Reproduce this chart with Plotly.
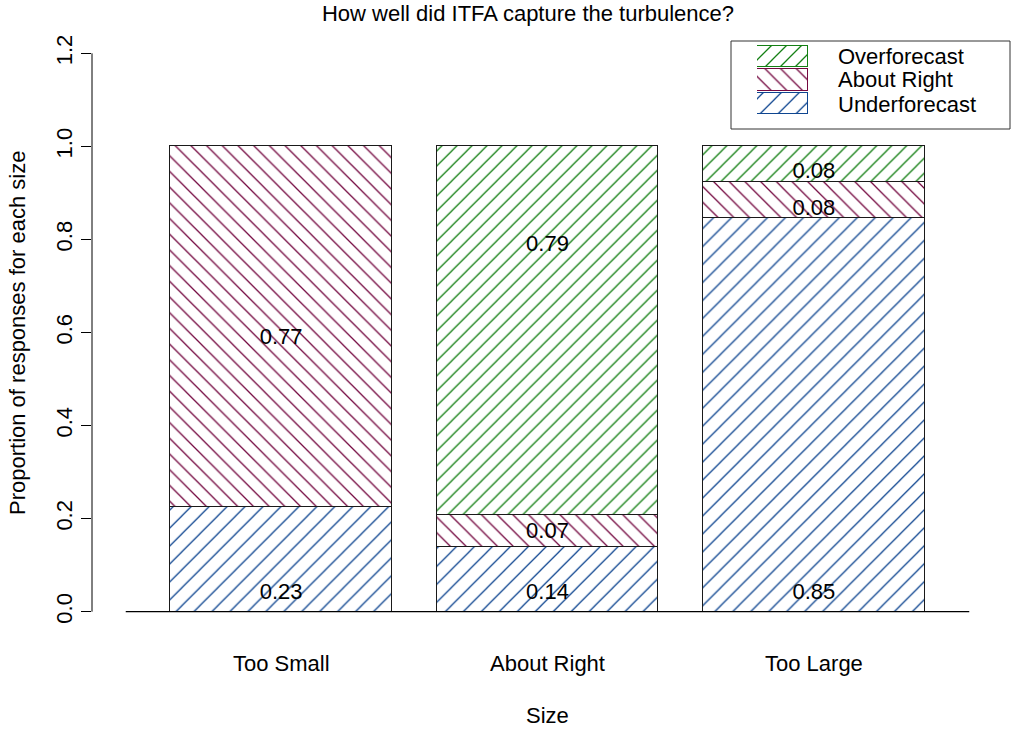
import plotly.graph_objects as go

# ---- data ----
categories = ["Too Small", "About Right", "Too Large"]
series_names = ["Underforecast", "About Right", "Overforecast"]
underforecast = [0.226, 0.138, 0.846]
about_right = [0.774, 0.069, 0.077]
overforecast = [0.0, 0.793, 0.077]
# vertical positions of the value labels
under_label_y = [0.04, 0.04, 0.04]
about_label_y = [0.588, 0.171, 0.865]
over_label_y = [None, 0.787, 0.944]
y_ticks = [0.0, 0.2, 0.4, 0.6, 0.8, 1.0, 1.2]
x_limits = [0.0, 3.8]

# ---- style ----
W, H = 1021, 730
ML, MR, MT, MB = 92, 18, 31, 96
PW, PH = W - ML - MR, H - MT - MB
FONT = "Liberation Sans, Arial, Helvetica, sans-serif"
FS = 22
colors = {"Underforecast": "#0E4590", "About Right": "#740840", "Overforecast": "#137F13"}
patterns = {"Underforecast": ("/", 12.7), "About Right": ("\\", 11.1), "Overforecast": ("/", 10.6)}
EDGE = "#1a1a1a"


def px_x(px):
    return (px - ML) / PW


def px_y(py):
    return (H - MB - py) / PH


bar_width = 1.0
space = 0.2
centers = [space + bar_width / 2 + i * (bar_width + space) for i in range(len(categories))]
xspan = x_limits[1] - x_limits[0]
x_range = [x_limits[0] - 0.04 * xspan, x_limits[1] + 0.04 * xspan]
y_range = [-0.04 * 1.2, 1.2 * 1.04]

fig = go.Figure()

series_vals = {"Underforecast": underforecast, "About Right": about_right, "Overforecast": overforecast}
for name in series_names:
    shp, sz = patterns[name]
    fig.add_trace(go.Bar(
        x=centers, y=series_vals[name], width=bar_width, name=name,
        marker=dict(color="white",
                    line=dict(color=EDGE, width=1),
                    pattern=dict(shape=shp, size=sz, solidity=1.3 / sz,
                                 fgcolor=colors[name], bgcolor="white", fillmode="replace")),
        showlegend=False, hoverinfo="skip"))

# value labels
lab_x, lab_y, lab_t = [], [], []
for vals, ys in [(underforecast, under_label_y), (about_right, about_label_y), (overforecast, over_label_y)]:
    for cx, v, ly in zip(centers, vals, ys):
        if v > 0 and ly is not None:
            lab_x.append(cx)
            lab_y.append(ly)
            lab_t.append(f"{v:.2f}")
fig.add_trace(go.Scatter(x=lab_x, y=lab_y, text=lab_t, mode="text",
                         textfont=dict(family=FONT, size=FS, color="black"),
                         textposition="middle center", cliponaxis=False,
                         showlegend=False, hoverinfo="skip"))

# legend swatches drawn in an inset axis
leg_order = ["Underforecast", "About Right", "Overforecast"]
for i, name in enumerate(leg_order):
    shp, sz = patterns[name]
    fig.add_trace(go.Bar(
        x=[1], y=[i], orientation="h", width=0.92, xaxis="x2", yaxis="y2",
        marker=dict(color="white", line=dict(color=colors[name], width=1),
                    pattern=dict(shape=shp, size=sz, solidity=1.3 / sz,
                                 fgcolor=colors[name], bgcolor="white", fillmode="replace")),
        showlegend=False, hoverinfo="skip"))

shapes = [
    # y axis line from first to last tick
    dict(type="line", xref="paper", yref="y", x0=0, x1=0, y0=y_ticks[0], y1=y_ticks[-1],
         line=dict(color="black", width=1)),
    # baseline under the bars
    dict(type="line", xref="x", yref="y", x0=x_limits[0], x1=x_limits[1], y0=0, y1=0,
         line=dict(color="black", width=1.2)),
    # legend box
    dict(type="rect", xref="paper", yref="paper", x0=px_x(731), x1=px_x(1010),
         y0=px_y(129), y1=px_y(41), line=dict(color="#333333", width=1), fillcolor="rgba(0,0,0,0)"),
]

annotations = []
for cx, c in zip(centers, categories):
    annotations.append(dict(x=cx, xref="x", y=px_y(663), yref="paper", text=c, showarrow=False,
                            xanchor="center", yanchor="middle",
                            font=dict(family=FONT, size=FS, color="black")))
annotations.append(dict(x=(x_range[0] + x_range[1]) / 2, xref="x", y=px_y(715), yref="paper",
                        text="Size", showarrow=False, xanchor="center", yanchor="middle",
                        font=dict(family=FONT, size=FS, color="black")))
annotations.append(dict(x=px_x(18), xref="paper", y=px_y(333), yref="paper",
                        text="Proportion of responses for each size", textangle=-90, showarrow=False,
                        xanchor="center", yanchor="middle",
                        font=dict(family=FONT, size=FS, color="black")))
for name, ty in zip(["Overforecast", "About Right", "Underforecast"], [56, 80, 104]):
    annotations.append(dict(x=px_x(836), xref="paper", y=px_y(ty), yref="paper", text=name,
                            showarrow=False, xanchor="left", yanchor="middle",
                            font=dict(family=FONT, size=FS, color="black")))

fig.update_layout(
    width=W, height=H,
    margin=dict(l=ML, r=MR, t=MT, b=MB),
    paper_bgcolor="white", plot_bgcolor="white",
    barmode="stack", bargap=0,
    title=dict(text="How well did ITFA capture the turbulence?", x=528 / W, xref="container",
               xanchor="center", y=1 - 13 / H, yref="container", yanchor="middle",
               font=dict(family=FONT, size=FS, color="black")),
    xaxis=dict(range=x_range, showgrid=False, zeroline=False, showline=False,
               showticklabels=False, ticks=""),
    yaxis=dict(range=y_range, showgrid=False, zeroline=False, showline=False,
               tickvals=y_ticks, ticktext=[f"{v:.1f}" for v in y_ticks],
               ticks="outside", ticklen=10, tickwidth=1, tickcolor="black",
               tickangle=-90, tickfont=dict(family=FONT, size=FS, color="black")),
    xaxis2=dict(domain=[px_x(757), px_x(808)], range=[0, 1], anchor="y2", visible=False),
    yaxis2=dict(domain=[px_y(115), px_y(45)], range=[-0.5, 2.5], anchor="x2", visible=False),
    shapes=shapes, annotations=annotations,
)

fig.write_html("out.html", config={"displayModeBar": False},
               post_script="document.body.style.margin='0';document.body.style.overflow='hidden';")
